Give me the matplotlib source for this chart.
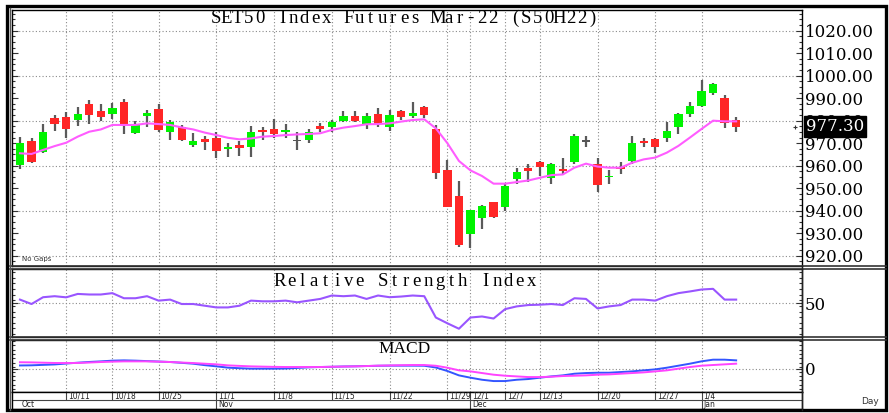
import matplotlib
matplotlib.use("Agg")
import matplotlib.pyplot as plt
from matplotlib.lines import Line2D
import numpy as np

# ── Datos (S50H22, diario) ───────────────────────────────────────────────────
open_ = [960.3, 971.0, 966.2, 981.0, 981.5, 980.3, 987.3, 984.4, 983.1, 988.1,
         974.4, 982.1, 985.2, 975.1, 977.0, 969.2, 971.9, 972.4, 967.5, 969.2,
         968.1, 975.9, 976.3, 975.0, 971.0, 971.4, 977.6, 977.3, 979.9, 982.1,
         978.5, 982.8, 977.3, 984.1, 982.2, 986.2, 976.3, 958.2, 946.4, 929.6,
         936.7, 943.9, 941.6, 953.9, 958.8, 961.8, 954.6, 958.4, 961.8, 970.6,
         960.6, 955.0, 959.4, 962.1, 970.9, 971.8, 972.1, 977.0, 983.0, 986.7,
         992.2, 990.1, 980.3]
high = [972.9, 972.1, 978.4, 982.5, 984.0, 986.2, 989.2, 987.3, 987.7, 989.5,
        980.0, 984.7, 987.3, 980.3, 978.1, 974.4, 973.2, 975.1, 969.9, 971.0,
        977.6, 977.0, 980.6, 978.4, 975.1, 976.1, 978.8, 980.3, 984.4, 984.1,
        983.3, 985.8, 984.7, 984.7, 988.3, 986.5, 978.1, 962.3, 953.4, 940.1,
        942.5, 944.0, 951.9, 958.8, 960.6, 962.1, 961.3, 963.6, 974.3, 973.3,
        963.3, 958.1, 961.8, 973.3, 972.5, 972.1, 979.3, 983.3, 988.2, 997.9,
        996.7, 991.6, 981.8]
low = [958.5, 961.3, 965.8, 975.4, 972.1, 977.8, 978.5, 980.0, 980.7, 974.1,
       974.0, 977.3, 975.1, 971.4, 971.0, 968.1, 967.0, 963.3, 963.7, 964.3,
       964.0, 971.4, 972.1, 972.1, 967.0, 970.2, 975.1, 975.1, 979.3, 979.3,
       976.1, 977.3, 975.6, 980.3, 981.0, 981.0, 953.9, 941.5, 924.0, 923.6,
       931.9, 936.7, 939.7, 951.9, 952.8, 955.4, 951.9, 956.1, 960.6, 968.1,
       948.4, 951.9, 956.4, 960.9, 968.4, 965.8, 970.3, 974.0, 981.5, 986.3,
       991.6, 976.7, 974.8]
close = [970.2, 961.8, 975.0, 978.5, 976.4, 983.0, 982.5, 981.8, 985.8, 978.1,
         978.1, 983.6, 975.9, 979.6, 971.4, 971.0, 970.4, 966.7, 967.9, 967.7,
         975.0, 975.0, 974.1, 975.7, 971.0, 975.1, 976.1, 979.6, 982.1, 980.0,
         982.1, 978.5, 982.4, 981.5, 983.6, 982.5, 956.6, 941.8, 924.8, 940.1,
         942.2, 937.0, 950.9, 957.3, 957.6, 959.6, 960.9, 957.6, 973.3, 970.6,
         951.6, 955.4, 958.4, 969.9, 970.1, 968.1, 975.2, 983.0, 986.7, 993.1,
         996.1, 978.8, 977.3]
ma = [965.5, 965.2, 967.0, 968.7, 970.2, 972.9, 975.1, 976.1, 978.1, 978.1,
      978.1, 978.8, 978.5, 978.1, 977.0, 976.1, 974.7, 973.6, 972.4, 971.7,
      972.1, 972.9, 973.2, 973.6, 973.9, 974.1, 974.4, 975.9, 976.9, 977.6,
      978.4, 978.5, 978.8, 979.6, 980.3, 980.6, 976.6, 970.0, 962.1, 957.9,
      955.4, 952.0, 952.0, 952.7, 953.4, 954.6, 955.8, 956.1, 959.1, 960.9,
      959.6, 959.1, 959.1, 961.3, 962.8, 963.6, 965.8, 968.8, 972.5, 976.3,
      980.0, 979.7, 979.7]
rsi = [53.0, 49.1, 55.1, 56.0, 55.0, 58.0, 57.5, 57.5, 58.7, 54.2,
       54.2, 56.0, 52.1, 53.0, 49.1, 49.1, 47.6, 46.1, 46.1, 47.6,
       52.1, 51.5, 51.5, 52.1, 50.6, 52.1, 53.6, 56.6, 56.0, 56.6,
       53.6, 56.6, 55.1, 55.7, 56.6, 56.0, 37.2, 32.1, 27.3, 37.2,
       38.1, 36.3, 44.6, 47.0, 48.2, 48.5, 49.1, 48.2, 54.2, 53.6,
       45.2, 47.0, 48.2, 53.0, 53.0, 52.1, 56.0, 58.7, 60.2, 61.9,
       62.5, 53.0, 53.0]
macd = [1.10, 1.15, 1.30, 1.45, 1.75, 2.05, 2.30, 2.50, 2.75, 2.85,
        2.75, 2.60, 2.45, 2.28, 2.00, 1.70, 1.20, 0.80, 0.35, 0.15,
        0.00, 0.00, 0.00, 0.05, 0.25, 0.45, 0.57, 0.65, 0.75, 0.80,
        0.90, 1.00, 1.03, 1.03, 1.03, 1.00, 0.40, -0.80, -2.30, -3.10,
        -3.80, -4.25, -4.25, -3.80, -3.56, -3.10, -2.65, -2.30, -1.73, -1.50,
        -1.39, -1.39, -1.16, -0.93, -0.58, -0.24, 0.33, 1.02, 1.71, 2.51,
        3.08, 3.08, 2.85]
signal = [2.20, 2.15, 2.05, 1.95, 1.93, 1.95, 2.10, 2.28, 2.40, 2.50,
          2.50, 2.50, 2.40, 2.28, 2.10, 1.93, 1.70, 1.48, 1.13, 0.95,
          0.79, 0.70, 0.62, 0.57, 0.57, 0.57, 0.57, 0.65, 0.72, 0.79,
          0.90, 1.03, 1.10, 1.18, 1.25, 1.25, 1.00, 0.33, -0.57, -0.93,
          -1.50, -2.07, -2.42, -2.65, -2.88, -2.88, -2.76, -2.53, -2.42, -2.30,
          -2.07, -1.96, -1.73, -1.50, -1.27, -0.93, -0.58, 0.00, 0.56, 1.02,
          1.25, 1.48, 1.71]

tick_idx = [4, 8, 12, 17, 22, 27, 32, 37, 39, 42, 45, 50, 55, 59]
tick_lbl = ["10/11", "10/18", "10/25", "11/1", "11/8", "11/15", "11/22",
            "11/29", "12/1", "12/7", "12/13", "12/20", "12/27", "1/4"]
month_idx = [17, 39, 59]
month_lbl = ["Oct", "Nov", "Dec", "Jan"]
price_ticks = list(range(920, 1021, 10))

# ── Colores ──────────────────────────────────────────────────────────────────
C_UP = "#00F400"
C_DN = "#FF2626"
C_DOJI = "#555555"
C_WICK = "#5a5a5a"
C_MA = "#FF5CFF"
C_RSI = "#9955FF"
C_MACD = "#3355FF"
C_SIG = "#FF44FF"
C_GRID = "#8a8a8a"

W, H = 889, 413
fig = plt.figure(figsize=(W / 100, H / 100), dpi=100)
fig.patch.set_facecolor("white")


def box(l, t, r, b):
    return [l / W, 1 - b / H, (r - l) / W, (b - t) / H]


def spaced(x0, y, s, adv, **kw):
    # texto "monoespaciado" como en la fuente del terminal
    for k, ch in enumerate(s):
        fig.text((x0 + k * adv) / W, 1 - y / H, ch, ha="center", va="center", **kw)


def fline(xs, ys, **kw):
    fig.add_artist(Line2D([v / W for v in xs], [1 - v / H for v in ys], **kw))


o = np.array(open_)
h = np.array(high)
lo = np.array(low)
c = np.array(close)
x = np.arange(len(c))
XLIM = (-0.69, 67.7)

ax_p = fig.add_axes(box(12, 10, 802, 266))
ax_r = fig.add_axes(box(12, 269, 802, 337))
ax_m = fig.add_axes(box(12, 339.5, 802, 392))
ax_d = fig.add_axes(box(12, 392, 802, 409))

grid_kw = dict(color=C_GRID, ls=(0, (1, 2)), lw=0.8, zorder=0)
for ax in (ax_p, ax_r, ax_m, ax_d):
    ax.set_xlim(*XLIM)
    ax.set_xticks([])
    for s in ax.spines.values():
        s.set_linewidth(1.0)
for ax in (ax_p, ax_r, ax_m):
    for xi in tick_idx:
        ax.axvline(xi, **grid_kw)

# ── Panel precio ─────────────────────────────────────────────────────────────
ax_p.set_ylim(915.4, 1029.2)
for yv in range(920, 1021, 20):
    ax_p.axhline(yv, **grid_kw)
col = np.where(c > o, C_UP, np.where(c < o, C_DN, C_DOJI))
body = c - o
body = np.where(np.abs(body) < 0.6, np.where(body >= 0, 0.6, -0.6), body)
ax_p.vlines(x, lo, h, color=C_WICK, lw=1.6, zorder=2)
ax_p.bar(x, body, bottom=o, width=0.72, color=col, linewidth=0, zorder=3)
ax_p.plot(x, ma, color=C_MA, lw=1.5, zorder=4)

ax_p.yaxis.tick_right()
ax_p.set_yticks(price_ticks)
ax_p.set_yticklabels([f"{v:.2f}" for v in price_ticks])
ax_p.set_yticks(np.arange(917.5, 1029, 2.5), minor=True)
ax_p.annotate(f"{close[-1]:.2f}", xy=(1, close[-1]), xycoords=("axes fraction", "data"),
              xytext=(2.6, 0), textcoords="offset points", ha="left", va="center",
              fontsize=12, family="DejaVu Serif", color="white", zorder=10,
              annotation_clip=False,
              bbox=dict(boxstyle="square,pad=0.12", fc="black", ec="black"))
ax_p.plot(XLIM[1] - 0.6, close[-1], marker="+", ms=3, mew=0.8, color="#333333",
          clip_on=False, zorder=5)
ax_p.text(0.013, 0.015, "No Gaps", transform=ax_p.transAxes, fontsize=5,
          color="#333333", va="bottom")

# ── RSI ──────────────────────────────────────────────────────────────────────
ax_r.set_ylim(20, 80)
ax_r.axhline(50, **grid_kw)
ax_r.plot(x, rsi, color=C_RSI, lw=1.5, zorder=3)
ax_r.yaxis.tick_right()
ax_r.set_yticks([50])
ax_r.set_yticklabels(["50"])
ax_r.set_yticks(np.arange(22.5, 80, 5), minor=True)

# ── MACD ─────────────────────────────────────────────────────────────────────
ax_m.set_ylim(-8, 10)
ax_m.axhline(0, **grid_kw)
ax_m.plot(x, macd, color=C_MACD, lw=1.4, zorder=3)
ax_m.plot(x, signal, color=C_SIG, lw=1.4, zorder=3)
ax_m.yaxis.tick_right()
ax_m.set_yticks([0])
ax_m.set_yticklabels(["0"])
ax_m.set_yticks(np.arange(-7, 10, 1.5), minor=True)

for ax in (ax_p, ax_r, ax_m):
    ax.tick_params(axis="y", which="both", direction="in", left=True, right=True,
                   labelleft=False, labelright=True, width=0.8, color="#333333", pad=2)
    ax.tick_params(axis="y", which="major", length=4)
    ax.tick_params(axis="y", which="minor", length=2.5)
    for lab in ax.get_yticklabels():
        lab.set_family("DejaVu Serif")
        lab.set_fontsize(12)

# ── Eje de fechas ────────────────────────────────────────────────────────────
ax_d.set_ylim(0, 1)
ax_d.set_yticks([])
ax_d.axhline(0.53, color="#444444", lw=0.8)
ax_d.vlines(tick_idx, 0.53, 1, color="#444444", lw=0.8)
for xi, lab in zip(tick_idx, tick_lbl):
    ax_d.text(xi + 0.15, 0.77, lab, fontsize=5.5, color="#222222", va="center", ha="left")
ax_d.vlines(month_idx, 0, 0.53, color="#444444", lw=0.8)
for xi, lab in zip([0] + month_idx, month_lbl):
    ax_d.text(xi + 0.15, 0.27, lab, fontsize=5.5, color="#222222", va="center", ha="left")

# ── Textos de los paneles ────────────────────────────────────────────────────
tkw = dict(fontsize=13.5, family="Liberation Serif", color="black")
spaced(215.5, 18.5, "SET50 Index Futures Mar-22 (S50H22)", 11.1, **tkw)
spaced(279.7, 281, "Relative Strength Index", 11.43, **tkw)
fig.text(405 / W, 1 - 349 / H, "MACD", ha="center", va="center", fontsize=12.5,
         family="Liberation Serif", color="black")
fig.text(870 / W, 1 - 401 / H, "Day", ha="center", va="center", fontsize=6.5, color="#333333")

# ── Marco ────────────────────────────────────────────────────────────────────
for yy in (266.3, 269):
    fline([10, 886], [yy, yy], color="#333333", lw=1.2)
for yy in (337.2, 339.5):
    fline([10, 886], [yy, yy], color="#333333", lw=1.2)
fline([802, 802], [266, 410], color="#222222", lw=1.0)
fig.add_artist(plt.Rectangle((6.5 / W, 1 - 410 / H), 879.5 / W, 404.5 / H, fill=False,
                             lw=2.4, ec="black", transform=fig.transFigure))
fline([10, 10], [8, 410], color="#555555", lw=1.0)

fig.savefig("out.png", dpi=100)
